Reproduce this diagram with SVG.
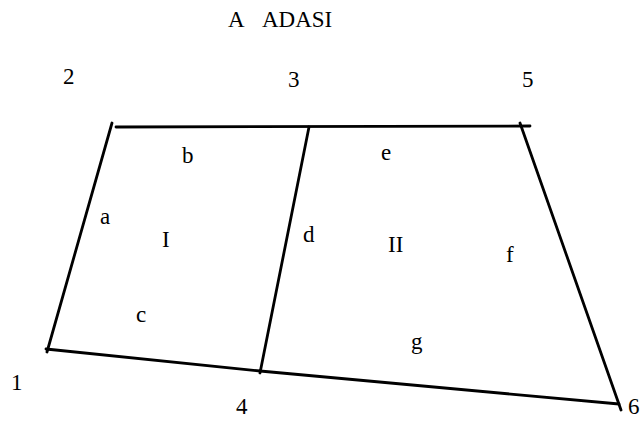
<svg xmlns="http://www.w3.org/2000/svg" width="642" height="421" viewBox="0 0 642 421">
<style>
.ln{stroke:#000;stroke-width:2.8;fill:none;stroke-linecap:round}
.t{font-family:"Liberation Serif","Times New Roman",serif;font-size:23px;fill:#000}
</style>
<rect width="642" height="421" fill="#fff"/>
<g id="title"><text class="t"><tspan x="228" y="27">A</tspan><tspan x="262" y="27">ADASI</tspan></text></g>
<g id="lines">
<line class="ln" x1="116" y1="127" x2="530" y2="126"/>
<line class="ln" x1="112" y1="123" x2="47" y2="352"/>
<line class="ln" x1="46" y1="349" x2="260" y2="371"/>
<line class="ln" x1="260" y1="371" x2="619" y2="404"/>
<line class="ln" x1="309" y1="127" x2="260" y2="373"/>
<line class="ln" x1="520" y1="123" x2="621" y2="410"/>
</g>
<g id="points">
<text class="t" x="63" y="84">2</text>
<text class="t" x="288" y="87">3</text>
<text class="t" x="522" y="87">5</text>
<text class="t" x="11" y="390">1</text>
<text class="t" x="236" y="414">4</text>
<text class="t" x="628" y="414">6</text>
</g>
<g id="edges">
<text class="t" x="182" y="163">b</text>
<text class="t" x="100" y="224">a</text>
<text class="t" x="136" y="322">c</text>
<text class="t" x="303" y="242">d</text>
<text class="t" x="381" y="160">e</text>
<text class="t" x="506" y="262">f</text>
<text class="t" x="411" y="349">g</text>
</g>
<g id="areas">
<text class="t" x="162" y="247">I</text>
<text class="t" x="388" y="252">II</text>
</g>
</svg>
